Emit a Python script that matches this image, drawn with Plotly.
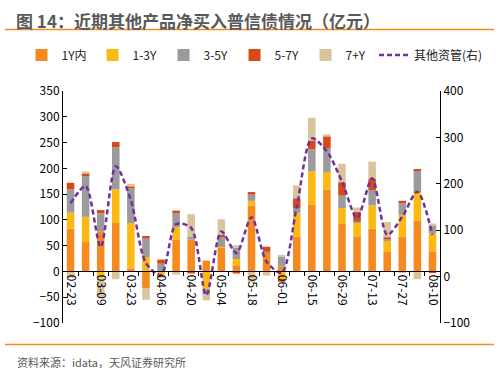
import plotly.graph_objects as go

dates = ["02-23", "03-02", "03-09", "03-16", "03-23", "03-30", "04-06", "04-13", "04-20",
         "04-27", "05-04", "05-11", "05-18", "05-25", "06-01", "06-08", "06-15", "06-22",
         "06-29", "07-06", "07-13", "07-20", "07-27", "08-03", "08-10"]

y_1y = [83, 57, 78, 94, 6, -33, 0, 62, 62, 21, 46, 12, 128, 37, 10, 68, 129, 159, 92, 68, 83, 39, 67, 99, 39]
y_1_3 = [31, 49, -12, 65, 88, 28, -5, 24, 0, -35, 2, 12, 9, 0, -15, 46, 65, 34, 31, 26, 45, 21, 43, 55, 35]
y_3_5 = [45, 79, 35, 82, 67, 37, 15, 27, 6, -10, 20, 22, 12, 2, 18, 9, 43, 46, 24, 3, 30, 3, 22, 41, 16]
y_5_7 = [13, 5, 6, 10, 4, 3, 8, 5, -4, 0, 3, -4, 5, 9, -5, 19, 17, 23, 26, 19, 22, 3, 5, 3, -2]
y_7p = [-12, 4, -38, -15, 5, -22, -8, -6, 43, -11, 30, 5, -21, -8, 4, 25, 44, 4, 36, 8, 33, 30, -2, -15, 3]
other_aum = [158, 195, 64, 238, 165, 29, 3, 113, 105, -40, 97, 51, 128, 32, 8, 150, 298, 270,
             205, 126, 212, 90, 129, 183, 90]

series_names = ["1Y内", "1-3Y", "3-5Y", "5-7Y", "7+Y"]
line_name = "其他资管(右)"
colors = ["#F58A1F", "#FDB913", "#9B9B9B", "#D64A17", "#D9C49D"]

title_text = "图 14：近期其他产品净买入普信债情况（亿元）"
source_text = "资料来源：idata，天风证券研究所"

FONT = "Noto Sans CJK SC, Noto Sans, sans-serif"
x_idx = list(range(len(dates)))

fig = go.Figure()
for name, vals, c in zip(series_names, [y_1y, y_1_3, y_3_5, y_5_7, y_7p], colors):
    fig.add_trace(go.Bar(x=x_idx, y=vals, name=name, marker=dict(color=c, line=dict(width=0))))

fig.add_trace(go.Scatter(x=x_idx, y=other_aum, name=line_name, yaxis="y2", mode="lines",
                         legend="legend2",
                         line=dict(color="#7030A0", width=2.5, dash="5px,3px", shape="spline",
                                   smoothing=0.8)))

legend_common = dict(orientation="h", y=1.155, xanchor="left", yanchor="middle",
                     font=dict(size=12, color="#222222"), itemwidth=30,
                     bgcolor="rgba(0,0,0,0)", traceorder="normal")

fig.update_layout(
    width=499, height=374,
    margin=dict(l=63, r=59, t=91, b=51, autoexpand=False),
    paper_bgcolor="white", plot_bgcolor="white",
    barmode="relative", bargap=0.5,
    font=dict(family=FONT, size=12, color="#000000"),
    showlegend=True,
    legend=dict(x=-0.11, entrywidth=26, entrywidthmode="pixels", **legend_common),
    legend2=dict(x=0.825, **legend_common),
    xaxis=dict(range=[-0.5, len(dates) - 0.5], tickmode="array",
               tickvals=x_idx[::2], ticktext=dates[::2], tickangle=90,
               ticks="", showline=True, linecolor="#000000", linewidth=1,
               anchor="free", position=100 / 450, showgrid=False, zeroline=False,
               automargin=False,
               tickfont=dict(size=12, color="#000000"),
               minor=dict(tickvals=[i + 0.5 for i in range(len(dates) - 1)], ticks="outside",
                          ticklen=4, tickcolor="#000000", tickwidth=1, showgrid=False)),
    yaxis=dict(range=[-100, 350], dtick=50, tick0=0, showline=True, linecolor="#000000",
               linewidth=1, ticks="inside", ticklen=4, tickcolor="#000000", showgrid=False,
               zeroline=False, automargin=False, tickfont=dict(size=12, color="#000000")),
    yaxis2=dict(range=[-100, 400], dtick=100, tick0=0, overlaying="y", side="right",
                showline=True, linecolor="#000000", linewidth=1, ticks="inside", ticklen=4,
                tickcolor="#000000", showgrid=False, zeroline=False, automargin=False,
                tickfont=dict(size=12, color="#000000")),
)

fig.add_annotation(text=title_text, xref="paper", yref="paper", x=-0.13, y=1.305,
                   xanchor="left", yanchor="middle", showarrow=False,
                   font=dict(size=17, color="#595959", family=FONT, weight="bold"))
fig.add_annotation(text=source_text, xref="paper", yref="paper", x=-0.128, y=-0.168,
                   xanchor="left", yanchor="middle", showarrow=False,
                   font=dict(size=11, color="#595959", family=FONT))

fig.add_shape(type="line", xref="paper", yref="paper", x0=-0.154, x1=1.143, y0=1.265,
              y1=1.265, line=dict(color="#F58A1F", width=1.5))
fig.add_shape(type="line", xref="paper", yref="paper", x0=-0.154, x1=1.143, y0=-0.093,
              y1=-0.093, line=dict(color="#F58A1F", width=1.5))

fig.write_html("out.html", config={"displayModeBar": False},
               post_script="document.body.style.margin='0';")
